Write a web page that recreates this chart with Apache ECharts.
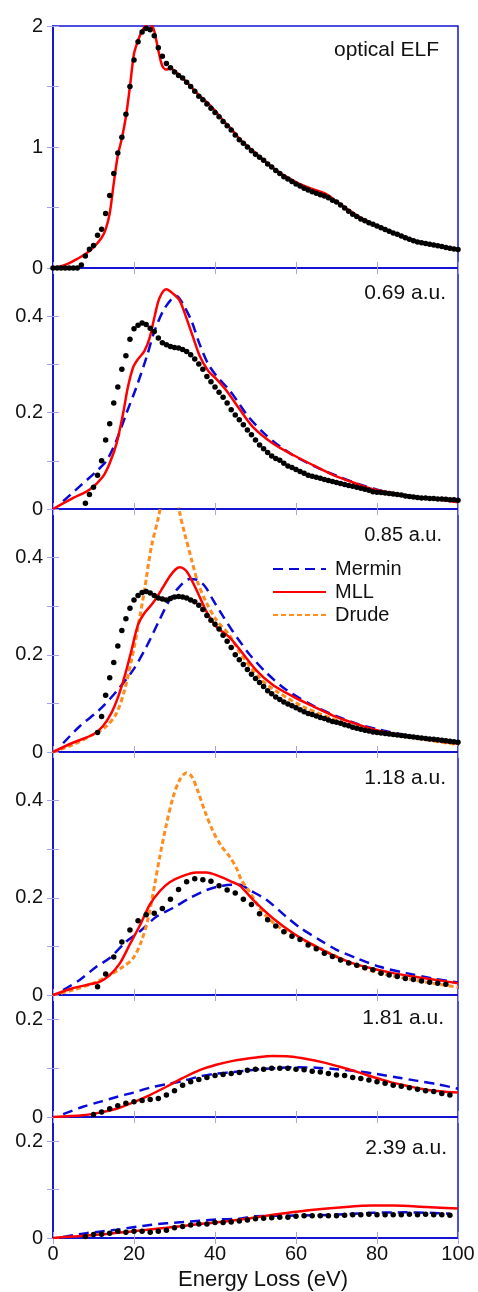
<!DOCTYPE html>
<html>
<head>
<meta charset="utf-8">
<script src="https://cdn.jsdelivr.net/npm/echarts@6/dist/echarts.min.js"></script>
<style>
  html, body { margin: 0; padding: 0; background: #fff; }
  #chart { width: 478px; height: 1292px; }
</style>
</head>
<body>
<div id="chart"></div>
<script>
// panel captions and axis labels
var panelLabels = ['optical ELF', '0.69 a.u.', '0.85 a.u.', '1.18 a.u.', '1.81 a.u.', '2.39 a.u.'];
var yLabels = [[0, 1, 2], [0, 0.2, 0.4], [0, 0.2, 0.4], [0, 0.2, 0.4], [0, 0.2], [0, 0.2]];
var xTitle = 'Energy Loss (eV)';

// measured points: start energy, step, values
var expElf = { start: 0, step: 1, values: [0, 0, 0, 0, 0, 0, 0, 0.025, 0.1, 0.155, 0.185, 0.27, 0.32, 0.45, 0.6, 0.78, 0.95, 1.08, 1.27, 1.5,
    1.72, 1.87, 1.95, 1.98, 1.97, 1.92, 1.82, 1.75, 1.69, 1.655, 1.62, 1.59, 1.57, 1.535, 1.5, 1.46, 1.42, 1.39, 1.355, 1.32,
    1.285, 1.25, 1.21, 1.175, 1.14, 1.1, 1.06, 1.03, 1.0, 0.97, 0.94, 0.915, 0.89, 0.86, 0.835, 0.805, 0.78, 0.755, 0.735, 0.715,
    0.695, 0.677, 0.66, 0.645, 0.63, 0.618, 0.605, 0.595, 0.58, 0.56, 0.545, 0.52, 0.495, 0.47, 0.445, 0.425, 0.405, 0.39, 0.375, 0.362,
    0.348, 0.333, 0.318, 0.303, 0.29, 0.278, 0.265, 0.25, 0.237, 0.225, 0.215, 0.208, 0.202, 0.196, 0.19, 0.183, 0.177, 0.17, 0.164, 0.158, 0.152] };
var exp069 = { start: 8, step: 1, values: [0.012, 0.03, 0.045, 0.07, 0.1, 0.143, 0.177, 0.22, 0.253, 0.29, 0.318, 0.352,
    0.374, 0.381, 0.386, 0.383, 0.375, 0.368, 0.355, 0.345, 0.341, 0.337, 0.335, 0.334, 0.331, 0.327, 0.32, 0.311, 0.301, 0.29,
    0.275, 0.264, 0.253, 0.242, 0.232, 0.22, 0.206, 0.195, 0.185, 0.175, 0.164, 0.154, 0.143, 0.133, 0.125, 0.117, 0.11, 0.105,
    0.101, 0.095, 0.089, 0.086, 0.082, 0.078, 0.074, 0.07, 0.068, 0.066, 0.064, 0.061, 0.059, 0.057, 0.055, 0.053, 0.051, 0.049,
    0.047, 0.045, 0.043, 0.041, 0.039, 0.036, 0.035, 0.034, 0.033, 0.032, 0.031, 0.03, 0.029, 0.027, 0.026, 0.025, 0.024, 0.023,
    0.023, 0.022, 0.022, 0.021, 0.021, 0.02, 0.019, 0.019, 0.018] };
var exp085 = { start: 11, step: 1, values: [0.04, 0.073, 0.117, 0.153, 0.184, 0.218, 0.25, 0.274, 0.296, 0.313, 0.322, 0.328,
    0.33, 0.327, 0.322, 0.317, 0.315, 0.313, 0.316, 0.319, 0.32, 0.319, 0.317, 0.313, 0.309, 0.302, 0.293, 0.281, 0.271, 0.263,
    0.253, 0.24, 0.228, 0.215, 0.2, 0.19, 0.18, 0.17, 0.16, 0.151, 0.143, 0.135, 0.126, 0.12, 0.113, 0.108, 0.103, 0.099, 0.095,
    0.091, 0.087, 0.083, 0.079, 0.077, 0.074, 0.071, 0.069, 0.066, 0.063, 0.061, 0.059, 0.056, 0.054, 0.051, 0.049, 0.047, 0.045,
    0.043, 0.041, 0.04, 0.039, 0.038, 0.037, 0.036, 0.035, 0.034, 0.033, 0.032, 0.031, 0.03, 0.029, 0.028, 0.027, 0.026, 0.025,
    0.024, 0.023, 0.022, 0.021, 0.02] };
var exp118 = { start: 11, step: 2, values: [0.017, 0.043, 0.078, 0.109, 0.134, 0.153, 0.165, 0.168, 0.178, 0.197, 0.217, 0.233,
    0.239, 0.237, 0.234, 0.225, 0.216, 0.21, 0.197, 0.186, 0.167, 0.155, 0.142, 0.13, 0.121, 0.114, 0.103, 0.095, 0.086, 0.079,
    0.072, 0.066, 0.061, 0.056, 0.052, 0.045, 0.041, 0.038, 0.034, 0.032, 0.029, 0.026, 0.024, 0.022] };
var exp181 = { start: 10, step: 2, values: [0.005, 0.01, 0.017, 0.023, 0.028, 0.031, 0.034, 0.036, 0.038, 0.045, 0.054, 0.065,
    0.072, 0.077, 0.081, 0.085, 0.087, 0.089, 0.091, 0.096, 0.098, 0.098, 0.1, 0.1, 0.1, 0.098, 0.097, 0.094, 0.092, 0.089,
    0.086, 0.085, 0.081, 0.079, 0.076, 0.072, 0.069, 0.065, 0.063, 0.06, 0.057, 0.054, 0.052, 0.048, 0.045] };
var exp239 = { start: 8, step: 2, values: [0.003, 0.007, 0.008, 0.01, 0.014, 0.012, 0.014, 0.014, 0.012, 0.014, 0.016, 0.021,
    0.024, 0.027, 0.029, 0.029, 0.032, 0.032, 0.033, 0.035, 0.037, 0.04, 0.041, 0.042, 0.043, 0.043, 0.045, 0.046, 0.046, 0.046,
    0.046, 0.046, 0.047, 0.048, 0.048, 0.049, 0.048, 0.048, 0.048, 0.048, 0.049, 0.048, 0.049, 0.048, 0.048, 0.047] };

// model curves [energy, value]
var mllElf = [[0, 0], [2, 0.015], [4, 0.04], [6, 0.075], [8, 0.115], [10, 0.17], [12, 0.25], [13, 0.32], [14, 0.45], [15, 0.7],
    [16, 0.93], [17, 1.07], [18, 1.25], [19, 1.5], [20, 1.77], [21, 1.88], [22, 1.96], [23, 2.0], [23.8, 1.96], [24.5, 2.0],
    [25.2, 1.93], [26, 1.8], [27, 1.67], [28, 1.64], [29, 1.65], [30, 1.63], [32, 1.57], [34, 1.5], [36, 1.43], [38, 1.37],
    [40, 1.3], [42, 1.22], [44, 1.15], [46, 1.07], [50, 0.95], [55, 0.81], [60, 0.71], [63, 0.665], [66, 0.63], [68, 0.6],
    [70, 0.55], [73, 0.48], [76, 0.415], [80, 0.35], [85, 0.28], [90, 0.22], [95, 0.185], [100, 0.155]];

var mll069 = [[0, 0], [5, 0.023], [9, 0.04], [12.3, 0.067], [14, 0.095], [15.7, 0.136], [17.3, 0.198], [18.5, 0.253],
    [19.8, 0.294], [21, 0.311], [22.6, 0.328], [23.9, 0.356], [25.1, 0.4], [26.3, 0.438], [28, 0.456], [29.6, 0.447],
    [31.3, 0.432], [32.9, 0.397], [34.6, 0.356], [36.2, 0.318], [38.3, 0.287], [40.3, 0.27], [42.8, 0.246], [46, 0.208],
    [49.4, 0.17], [54.3, 0.136], [59.3, 0.112], [64.2, 0.091], [69.1, 0.071], [74.1, 0.055], [79, 0.041], [84, 0.033],
    [88.9, 0.026], [93.8, 0.021], [100, 0.014]];
var mermin069 = [[2.5, 0.016], [6.6, 0.047], [10.7, 0.078], [13.2, 0.1], [15.7, 0.143], [18.1, 0.198], [20.6, 0.253],
    [23.1, 0.315], [25.1, 0.37], [27.2, 0.411], [29.2, 0.435], [30.5, 0.442], [32.1, 0.425], [34.2, 0.39], [36.2, 0.342],
    [38.3, 0.301], [40.3, 0.277], [43.6, 0.246], [46, 0.218], [48, 0.194], [52, 0.158], [56, 0.13], [60, 0.108], [65, 0.087],
    [70, 0.069], [75, 0.053], [80, 0.04], [85, 0.031], [90, 0.025], [95, 0.02], [100, 0.015]];

var mll085 = [[0, 0], [4.9, 0.019], [9.9, 0.036], [12.3, 0.053], [14.4, 0.08], [16.1, 0.114], [17.7, 0.156], [19.4, 0.21],
    [21, 0.262], [22.6, 0.286], [24.7, 0.307], [26.8, 0.334], [28.8, 0.361], [30.3, 0.376], [31.3, 0.38], [32.3, 0.377],
    [33.3, 0.368], [35.4, 0.334], [37.9, 0.289], [40.3, 0.258], [43.6, 0.236], [46, 0.212], [50.2, 0.168], [54.3, 0.138],
    [59.3, 0.114], [64.2, 0.094], [69.1, 0.075], [74.1, 0.06], [79, 0.047], [84, 0.038], [88.9, 0.031], [93.8, 0.024], [100, 0.017]];
var mermin085 = [[2.5, 0.018], [6.6, 0.053], [11.5, 0.087], [15.7, 0.125], [19.8, 0.169], [23.1, 0.217], [26.3, 0.272],
    [28.8, 0.313], [31.3, 0.341], [33.8, 0.356], [35.4, 0.355], [37.5, 0.341], [39.5, 0.313], [42, 0.279], [44.4, 0.248],
    [46.1, 0.228], [48.6, 0.2], [52.7, 0.163], [57.6, 0.128], [65, 0.092], [70, 0.074], [75, 0.058], [80, 0.047], [90, 0.03], [100, 0.017]];
var drude085 = [[0, 0], [4.9, 0.015], [9.9, 0.036], [13.2, 0.053], [15.7, 0.08], [17.7, 0.128], [19.4, 0.19], [21, 0.258],
    [22.6, 0.334], [24.3, 0.423], [25.9, 0.478], [27.5, 0.54], [29.2, 0.58], [30.5, 0.54], [31.3, 0.492], [32.5, 0.45],
    [34.2, 0.396], [35.8, 0.348], [37.9, 0.307], [40.3, 0.272], [43.6, 0.24], [46.1, 0.205], [51, 0.152], [55.9, 0.121],
    [62.6, 0.09], [70.8, 0.063], [79, 0.042], [87.3, 0.031], [93, 0.024], [100, 0.015]];

var mll118 = [[0, 0], [4.9, 0.014], [9.1, 0.022], [11.5, 0.027], [14, 0.041], [16.5, 0.065], [18.9, 0.103], [21.5, 0.144],
    [23.9, 0.186], [26.3, 0.213], [28.8, 0.232], [32.1, 0.245], [35.4, 0.252], [37.9, 0.252], [41.1, 0.244], [44.4, 0.232],
    [46.1, 0.225], [50.2, 0.189], [54.3, 0.158], [59.3, 0.127], [64.2, 0.103], [69.1, 0.082], [74.1, 0.065], [79, 0.054],
    [84, 0.045], [88.9, 0.038], [93.8, 0.032], [100, 0.024]];
var mermin118 = [[2.5, 0.01], [6.6, 0.031], [10.7, 0.058], [14, 0.076], [18.1, 0.11], [21.5, 0.131], [25.5, 0.161],
    [29.6, 0.179], [33.7, 0.199], [37.9, 0.216], [42, 0.225], [46.1, 0.227], [48.5, 0.216], [52.7, 0.196], [57.6, 0.161],
    [60.9, 0.139], [65.9, 0.113], [70, 0.093], [74.9, 0.076], [80.7, 0.058], [87.3, 0.045], [93.8, 0.034], [100, 0.026]];
var drude118 = [[0, 0], [4.9, 0.01], [9.9, 0.024], [14, 0.041], [17.3, 0.058], [19.8, 0.076], [21.8, 0.11], [23.5, 0.158],
    [25.1, 0.227], [26.3, 0.282], [28, 0.351], [29.6, 0.406], [31.3, 0.443], [32.9, 0.457], [34.2, 0.45], [35.8, 0.419],
    [37.5, 0.378], [39.5, 0.337], [41.6, 0.306], [43.6, 0.285], [45.3, 0.261], [46.5, 0.237], [48.5, 0.213], [51, 0.179],
    [53.5, 0.155], [56.8, 0.134], [60.9, 0.117], [65.9, 0.096], [70.8, 0.076], [75.7, 0.058], [80.7, 0.045], [87.3, 0.034],
    [93.8, 0.024], [100, 0.016]];

var mll181 = [[0, 0], [7.4, 0.0035], [11.5, 0.009], [15.7, 0.017], [19.8, 0.03], [23.9, 0.045], [28, 0.062], [32.1, 0.08],
    [36.2, 0.096], [40.3, 0.107], [44.4, 0.115], [50.2, 0.122], [54.3, 0.125], [58.4, 0.124], [62.6, 0.119], [66.7, 0.112],
    [70.8, 0.103], [74.9, 0.093], [79, 0.082], [83.1, 0.072], [87.3, 0.064], [91.4, 0.057], [95.5, 0.053], [100, 0.05]];
var mermin181 = [[2.5, 0.006], [7.4, 0.021], [11.5, 0.031], [15.7, 0.041], [19.8, 0.05], [23.9, 0.06], [28, 0.067],
    [32.1, 0.074], [36.2, 0.083], [40.3, 0.089], [44.4, 0.092], [50, 0.097], [55, 0.1], [60, 0.102], [65, 0.101], [70, 0.098],
    [75, 0.094], [80, 0.088], [85, 0.081], [90, 0.074], [95, 0.067], [100, 0.058]];

var mll239 = [[0, 0], [11.5, 0.007], [19.8, 0.014], [28, 0.021], [36.2, 0.029], [44.4, 0.036], [54.3, 0.048], [62.6, 0.057],
    [70.8, 0.063], [79, 0.067], [84, 0.067], [92.2, 0.064], [100, 0.061]];
var mermin239 = [[2.5, 0.002], [8.2, 0.01], [15.7, 0.017], [23.9, 0.027], [32.1, 0.033], [40.3, 0.038], [46.1, 0.04],
    [50, 0.045], [58, 0.046], [65, 0.047], [72, 0.049], [79, 0.052], [87, 0.053], [93, 0.052], [98, 0.05]];

var BLUE = '#1414d2';
var TICK = '#a4a4ee';
var FONT = 'Liberation Sans, Arial, sans-serif';

var panels = [
    { top: 26, height: 242, max: 2, tick: 0.5, exp: expElf, mll: mllElf, mermin: null, drude: null },
    { top: 268, height: 241, max: 0.5, tick: 0.1, exp: exp069, mll: mll069, mermin: mermin069, drude: null },
    { top: 509, height: 243, max: 0.5, tick: 0.1, exp: exp085, mll: mll085, mermin: mermin085, drude: drude085 },
    { top: 752, height: 243, max: 0.5, tick: 0.1, exp: exp118, mll: mll118, mermin: mermin118, drude: drude118 },
    { top: 995, height: 122, max: 0.25, tick: 0.1, exp: exp181, mll: mll181, mermin: mermin181, drude: null },
    { top: 1117, height: 121, max: 0.25, tick: 0.1, exp: exp239, mll: mll239, mermin: mermin239, drude: null }
];
var labelBoxes = [[439, 50, 21], [446, 293, 21], [442, 535, 20], [446, 778, 21], [444, 1018, 21], [447, 1148, 21]];

function toPairs(d) {
    return d.values.map(function (v, i) { return [d.start + i * d.step, v]; });
}

var grids = [], xAxes = [], yAxes = [], series = [], graphics = [];
panels.forEach(function (p, i) {
    grids.push({ left: 53, right: 20, top: p.top, height: p.height, show: true, borderColor: BLUE, borderWidth: 1.5 });
    var xBase = {
        type: 'value', gridIndex: i, min: 0, max: 100, interval: 20,
        axisLine: { show: true, lineStyle: { color: BLUE, width: 2 } },
        axisTick: { inside: true, length: 6, lineStyle: { color: TICK } },
        splitLine: { show: false }
    };
    xAxes.push(Object.assign({}, xBase, {
        position: 'bottom',
        axisLabel: { show: i === panels.length - 1, fontSize: 20, color: '#111', fontFamily: FONT, margin: 6 }
    }));
    xAxes.push(Object.assign({}, xBase, { position: 'top', axisLine: { show: false }, axisLabel: { show: false } }));

    var labs = yLabels[i];
    var yBase = {
        type: 'value', gridIndex: i, min: 0, max: p.max, interval: p.tick,
        axisLine: { show: true, lineStyle: { color: BLUE, width: 1.5 } },
        axisTick: { inside: true, length: 6, lineStyle: { color: TICK } },
        splitLine: { show: false }
    };
    yAxes.push(Object.assign({}, yBase, {
        position: 'left',
        axisLabel: {
            fontSize: 20, color: '#111', fontFamily: FONT, margin: 10,
            formatter: function (v) {
                for (var k = 0; k < labs.length; k++) {
                    if (Math.abs(labs[k] - v) < 1e-9) return String(labs[k]);
                }
                return '';
            }
        }
    }));
    yAxes.push(Object.assign({}, yBase, { position: 'right', axisLabel: { show: false } }));

    var ax = { xAxisIndex: 2 * i, yAxisIndex: 2 * i };
    if (p.mermin) {
        series.push(Object.assign({
            name: 'Mermin', type: 'line', data: p.mermin, symbol: 'none', smooth: 0.3,
            lineStyle: { color: '#0a0ad8', width: 2.5, type: [10, 6] }, itemStyle: { color: '#0a0ad8' }, z: 2
        }, ax));
    }
    if (p.drude) {
        series.push(Object.assign({
            name: 'Drude', type: 'line', data: p.drude, symbol: 'none', smooth: 0.3,
            lineStyle: { color: '#ff8c1e', width: 3, type: [5, 3] }, itemStyle: { color: '#ff8c1e' }, z: 3
        }, ax));
    }
    series.push(Object.assign({
        name: 'MLL', type: 'line', data: p.mll, symbol: 'none', smooth: 0.3,
        lineStyle: { color: '#ff0000', width: 2.5 }, itemStyle: { color: '#ff0000' }, z: 4
    }, ax));
    series.push(Object.assign({
        name: 'exp', type: 'scatter', data: toPairs(p.exp), symbolSize: 5.5,
        itemStyle: { color: '#000', opacity: 1 }, z: 5
    }, ax));

    var lb = labelBoxes[i];
    graphics.push({
        type: 'text', z: 10,
        style: { text: panelLabels[i], x: lb[0], y: lb[1], align: 'right', verticalAlign: 'middle',
                 font: lb[2] + 'px ' + FONT, fill: '#111' }
    });
});

graphics.push({
    type: 'text', z: 10,
    style: { text: xTitle, x: 263, y: 1280, align: 'center', verticalAlign: 'middle', font: '22px ' + FONT, fill: '#111' }
});

var chart = echarts.init(document.getElementById('chart'));
chart.setOption({
    animation: false,
    backgroundColor: '#fff',
    grid: grids,
    xAxis: xAxes,
    yAxis: yAxes,
    legend: {
        data: ['Mermin', 'MLL', 'Drude'],
        orient: 'vertical', left: 272, top: 559, padding: 0,
        itemWidth: 53, itemHeight: 14, itemGap: 3,
        itemStyle: { opacity: 0 },
        textStyle: { fontSize: 20, color: '#111', fontFamily: FONT, padding: [0, 0, 0, 4] }
    },
    graphic: graphics,
    series: series
});
</script>
</body>
</html>
